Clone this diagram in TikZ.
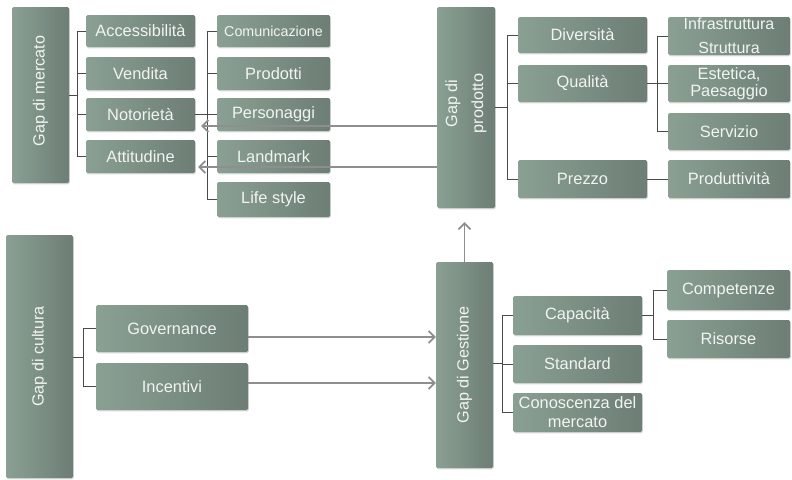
\documentclass[tikz,border=0pt]{standalone}
\usepackage{fontspec}
\setmainfont{Liberation Sans}
\usetikzlibrary{arrows.meta,shadows}
\definecolor{boxL}{HTML}{8AA093}
\definecolor{boxR}{HTML}{6D7E74}
\definecolor{connc}{HTML}{4A4A4A}
\definecolor{arrc}{HTML}{8E8E8E}
\definecolor{txtc}{HTML}{F2F4F2}
\tikzset{
 gbox/.style={draw=none, rounded corners=1.5pt, left color=boxL, right color=boxR,
   text=txtc, font=\fontsize{16.4}{19}\selectfont, align=center, inner sep=0pt,
   drop shadow={opacity=0.3, shadow xshift=0.8pt, shadow yshift=-1.3pt}},
 gtxt/.style={text=txtc, font=\fontsize{16.2}{19}\selectfont, align=center, inner sep=0pt},
 conn/.style={draw=connc, line width=0.8pt},
 garr/.style={draw=arrc, line width=1.7pt, -{Straight Barb[length=6pt,width=12pt]}}
}
\begin{document}
\begin{tikzpicture}[x=1pt,y=-1pt]
\useasboundingbox (0,0) rectangle (792,479);
% ---- Gap di mercato
\node[gbox, minimum width=57pt, minimum height=176pt] (gmerc) at (40.5,95) {};
\node[gtxt, rotate=90] (gmerct) at ([yshift=4pt]gmerc.center) {Gap di mercato};
\node[gbox, minimum width=109pt, minimum height=32pt] (acc) at (140.5,31) {Accessibilità};
\node[gbox, minimum width=109pt, minimum height=33pt] (vend) at (140.5,73.5) {Vendita};
\node[gbox, minimum width=109pt, minimum height=33pt] (noto) at (140.5,114.5) {Notorietà};
\node[gbox, minimum width=109pt, minimum height=33pt] (att) at (140.5,156.5) {Attitudine};
\node[gbox, minimum width=113pt, minimum height=32pt, font=\fontsize{14.3}{17}\selectfont] (comm) at (273.5,31) {Comunicazione};
\node[gbox, minimum width=113pt, minimum height=33pt] (prodt) at (273.5,73.5) {Prodotti};
\node[gbox, minimum width=113pt, minimum height=33pt] (pers) at (273.5,114.5) {Personaggi};
\node[gbox, minimum width=113pt, minimum height=33pt] (land) at (273.5,156.5) {Landmark};
\node[gbox, minimum width=113pt, minimum height=35pt] (life) at (273.5,199.5) {Life style};
\coordinate (b1) at (77,95);
\draw[conn] (gmerc.east) -- (b1);
\draw[conn] (b1 |- acc.west) -- (b1 |- att.west);
\foreach \n in {acc,vend,noto,att} \draw[conn] (b1 |- \n.west) -- (\n.west);
\coordinate (b2) at (207,114.5);
\draw[conn] (noto.east) -- (b2);
\draw[conn] (b2 |- comm.west) -- (b2 |- life.west);
\foreach \n in {comm,prodt,pers,land,life} \draw[conn] (b2 |- \n.west) -- (\n.west);
% ---- Gap di prodotto
\node[gbox, minimum width=58pt, minimum height=201pt] (gprod) at (466,107.5) {};
\node[gtxt, rotate=90, font=\fontsize{16.2}{26}\selectfont] (gprodt) at ([yshift=4pt]gprod.center) {Gap di\\prodotto};
\node[gbox, minimum width=129pt, minimum height=36pt] (div) at (582.5,35) {Diversità};
\node[gbox, minimum width=129pt, minimum height=37pt] (qual) at (582.5,83.5) {Qualità};
\node[gbox, minimum width=129pt, minimum height=38pt] (prez) at (582.5,179) {Prezzo};
\node[gbox, minimum width=122pt, minimum height=38pt, font=\fontsize{16}{24}\selectfont] (infra) at (729,36) {Infrastruttura\\Struttura};
\node[gbox, minimum width=122pt, minimum height=37pt, font=\fontsize{16.4}{17}\selectfont] (est) at (729,83.5) {Estetica,\\Paesaggio};
\node[gbox, minimum width=122pt, minimum height=37pt] (serv) at (729,131.5) {Servizio};
\node[gbox, minimum width=122pt, minimum height=38pt] (produt) at (729,179) {Produttività};
\coordinate (b3) at (507,107);
\draw[conn] (gprod.east |- b3) -- (b3);
\draw[conn] (b3 |- div.west) -- (b3 |- prez.west);
\foreach \n in {div,qual,prez} \draw[conn] (b3 |- \n.west) -- (\n.west);
\coordinate (b4) at (657,83.5);
\draw[conn] (qual.east) -- (b4);
\draw[conn] (b4 |- infra.west) -- (b4 |- serv.west);
\foreach \n in {infra,est,serv} \draw[conn] (b4 |- \n.west) -- (\n.west);
\draw[conn] (prez.east) -- (produt.west);
% arrows to mercato
\coordinate (a1) at (0,126);
\coordinate (a2) at (0,167);
\draw[garr] (gprod.west |- a1) -- ([xshift=6pt]noto.east |- a1);
\draw[garr] (gprod.west |- a2) -- ([xshift=3pt]att.east |- a2);
% ---- Gap di cultura
\node[gbox, minimum width=67pt, minimum height=243pt] (gcult) at (39.5,356.5) {};
\node[gtxt, rotate=90] (gcultt) at (gcult.center) {Gap di cultura};
\node[gbox, minimum width=152pt, minimum height=47pt] (gov) at (172,328.5) {Governance};
\node[gbox, minimum width=152pt, minimum height=47pt] (inc) at (172,386.5) {Incentivi};
\coordinate (b5) at (83,357);
\draw[conn] (gcult.east |- b5) -- (b5);
\draw[conn] (b5 |- gov.west) -- (b5 |- inc.west);
\foreach \n in {gov,inc} \draw[conn] (b5 |- \n.west) -- (\n.west);
% ---- Gap di Gestione
\node[gbox, minimum width=57pt, minimum height=206pt] (gest) at (464.5,365) {};
\node[gtxt, rotate=90] (gestt) at (gest.center) {Gap di Gestione};
\node[gbox, minimum width=129pt, minimum height=39pt] (cap) at (577.5,315.5) {Capacità};
\node[gbox, minimum width=129pt, minimum height=38pt] (std) at (577.5,364) {Standard};
\node[gbox, minimum width=129pt, minimum height=39pt, font=\fontsize{16.4}{19}\selectfont] (con) at (577.5,412.5) {Conoscenza del\\mercato};
\node[gbox, minimum width=123pt, minimum height=40pt] (comp) at (728.5,290) {Competenze};
\node[gbox, minimum width=123pt, minimum height=38pt] (ris) at (728.5,339) {Risorse};
\coordinate (b6) at (502,363);
\draw[conn] (gest.east |- b6) -- (b6);
\draw[conn] (b6 |- cap.west) -- (b6 |- con.west);
\foreach \n in {cap,std,con} \draw[conn] (b6 |- \n.west) -- (\n.west);
\coordinate (b7) at (653,315.5);
\draw[conn] (cap.east) -- (b7);
\draw[conn] (b7 |- comp.west) -- (b7 |- ris.west);
\foreach \n in {comp,ris} \draw[conn] (b7 |- \n.west) -- (\n.west);
% arrows
\coordinate (a3) at (0,337);
\coordinate (a4) at (0,383);
\draw[garr] (gov.east |- a3) -- (gest.west |- a3);
\draw[garr] (inc.east |- a4) -- (gest.west |- a4);
\draw[garr] (gest.north) -- ([yshift=-14pt]gest.north |- gprod.south);
\end{tikzpicture}
\end{document}
